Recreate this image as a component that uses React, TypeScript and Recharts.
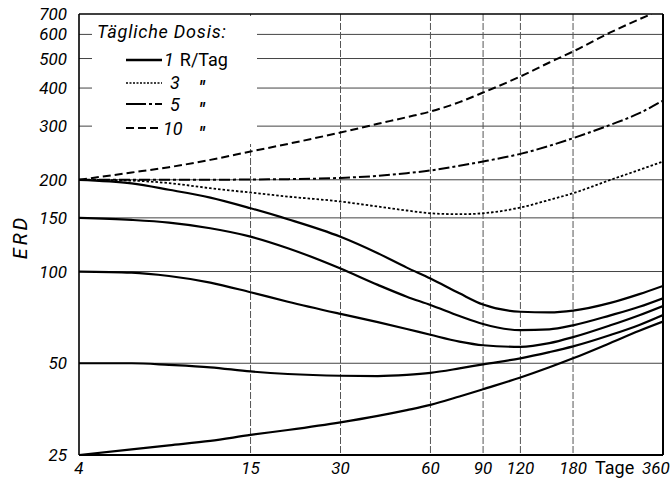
import React from 'react';
import {
  LineChart,
  Line,
  XAxis,
  YAxis,
  CartesianGrid,
  ReferenceLine,
  Customized,
} from 'recharts';

// Axis ticks and grid positions (both axes logarithmic)
const xTicks = [4, 15, 30, 60, 90, 120, 180, 360];
const yTicks = [25, 50, 100, 150, 200, 300, 400, 500, 600, 700];
const gridX = [15, 30, 60, 90, 120, 180];
const gridY = [50, 100, 150, 200, 300, 400, 500, 600];

// Days at which the curves are sampled
const days = [4, 6, 8, 11, 15, 20, 30, 40, 50, 60, 75, 90, 120, 150, 180, 240, 300, 360];

// 1 R/Tag: family of curves with different starting ERD
const erd1From200 = [200, 194.6, 185.5, 174.8, 161.3, 148.5, 130, 114.8, 103, 94.8, 84.8, 77.9, 73.8, 73.4, 74.4, 78.9, 84.3, 89.7];
const erd1From150 = [150, 147.7, 144.7, 138.7, 130.2, 119.3, 102.3, 90.4, 82.7, 77.7, 71.5, 67.3, 64.2, 64.6, 66.6, 71.8, 76.6, 81.7];
const erd1From100 = [100, 99.2, 96.7, 92, 85.5, 79.6, 72.6, 68.2, 64.8, 62, 58.9, 57.3, 56.6, 58.2, 60.9, 66.6, 71.9, 77.1];
const erd1From50 = [50, 50, 49.4, 48.5, 47, 46.1, 45.5, 45.4, 45.8, 46.5, 48.1, 49.6, 51.9, 54.4, 56.8, 61.9, 66.8, 72];
const erd1From25 = [25, 26.1, 26.9, 27.8, 29.1, 30.2, 32, 33.6, 35.1, 36.5, 38.9, 41.1, 44.9, 48.5, 51.9, 58.3, 63.9, 68.5];

// 3 R/Tag
const erd3 = [200, 198.8, 195, 187.7, 181.6, 176.2, 169.7, 163.4, 158.6, 155.3, 154.2, 155.3, 162.2, 171.8, 180.7, 199.8, 215.6, 229.6];

// 5 R/Tag
const erd5 = [200, 200, 200, 200, 200.5, 201, 202.9, 206, 210.3, 214.6, 222.3, 229.6, 243.3, 258.5, 273.9, 303, 330.8, 364];

// 10 R/Tag (leaves the chart at the top edge)
const days10 = [4, 6, 8, 11, 15, 20, 30, 40, 50, 60, 75, 90, 120, 150, 180, 240, 300, 330];
const erd10 = [200, 211.3, 220, 232.5, 247.6, 262.3, 285.9, 305.3, 321, 335, 359.6, 386.7, 436.6, 485.3, 527.3, 608.9, 673, 700];

const toPoints = (xs: number[], vals: number[]) =>
  xs.map((d, i) => ({ d, v: vals[i] }));

const solidSeries = [erd1From200, erd1From150, erd1From100, erd1From50, erd1From25];

const FONT = 'Roboto, "DejaVu Sans", sans-serif';

const XTick = (props: any) => {
  const { x, payload } = props;
  const last = payload.value === 360;
  return (
    <text
      x={x + (last ? -7 : 0)}
      y={474}
      textAnchor="middle"
      fontFamily={FONT}
      fontStyle="italic"
      fontSize={17}
      fill="#000"
    >
      {payload.value}
    </text>
  );
};

const YTick = (props: any) => {
  const { x, y, payload } = props;
  return (
    <text
      x={x}
      y={y + 6}
      textAnchor="end"
      fontFamily={FONT}
      fontStyle="italic"
      fontSize={17}
      fill="#000"
    >
      {payload.value}
    </text>
  );
};

const Annotations = () => (
  <g fontFamily={FONT} fill="#000">
    {/* key box */}
    <rect x={92} y={16} width={165} height={128} fill="#fff" />
    <text x={97} y={38} fontStyle="italic" fontSize={18} letterSpacing={0.8}>
      Tägliche Dosis:
    </text>
    <line x1={126} x2={162} y1={60} y2={60} stroke="#000" strokeWidth={2.6} />
    <text x={164} y={66} fontSize={18}>
      <tspan fontStyle="italic">1</tspan>
      <tspan dx={6}>R/Tag</tspan>
    </text>
    <line x1={126} x2={162} y1={83} y2={83} stroke="#000" strokeWidth={1.3} strokeDasharray="2 1.5" />
    <text x={170} y={89} fontStyle="italic" fontSize={18}>3</text>
    <text x={199} y={94} fontStyle="italic" fontWeight="bold" fontSize={18}>"</text>
    <line x1={126} x2={162} y1={104} y2={104} stroke="#000" strokeWidth={2} strokeDasharray="20 3 3 3" />
    <text x={170} y={111} fontStyle="italic" fontSize={18}>5</text>
    <text x={199} y={116} fontStyle="italic" fontWeight="bold" fontSize={18}>"</text>
    <line x1={126} x2={162} y1={128} y2={128} stroke="#000" strokeWidth={2} strokeDasharray="8 4" />
    <text x={163} y={135} fontStyle="italic" fontSize={18}>10</text>
    <text x={199} y={140} fontStyle="italic" fontWeight="bold" fontSize={18}>"</text>

    {/* axis titles */}
    <text
      x={27}
      y={237}
      transform="rotate(-90 27 237)"
      textAnchor="middle"
      fontStyle="italic"
      fontSize={20}
      letterSpacing={3}
    >
      ERD
    </text>
    <text x={595} y={474} fontSize={18}>Tage</text>
  </g>
);

export default function App() {
  return (
    <div style={{ position: 'absolute', left: 0, top: 0, background: '#fff' }}>
      <LineChart
        width={670}
        height={479}
        margin={{ top: 14, right: 7, bottom: 0, left: 0 }}
      >
        <CartesianGrid
          vertical={false}
          horizontalValues={gridY}
          stroke="#444"
          strokeWidth={1}
        />
        <CartesianGrid
          horizontal={false}
          verticalValues={gridX}
          stroke="#555"
          strokeWidth={1}
          strokeDasharray="7 2"
        />
        <XAxis
          type="number"
          dataKey="d"
          scale="log"
          domain={[4, 360]}
          ticks={xTicks}
          interval={0}
          allowDataOverflow
          height={24}
          tickLine={false}
          tickSize={0}
          axisLine={{ stroke: '#000', strokeWidth: 2 }}
          tick={<XTick />}
        />
        <YAxis
          type="number"
          dataKey="v"
          scale="log"
          domain={[25, 700]}
          ticks={yTicks}
          interval={0}
          allowDataOverflow
          width={79}
          tickLine={false}
          tickMargin={6}
          axisLine={{ stroke: '#000', strokeWidth: 1.6 }}
          tick={<YTick />}
        />
        <ReferenceLine y={700} stroke="#000" strokeWidth={1.6} />
        <ReferenceLine x={360} stroke="#000" strokeWidth={2} />
        {solidSeries.map((vals, i) => (
          <Line
            key={`s${i}`}
            data={toPoints(days, vals)}
            dataKey="v"
            type="monotone"
            stroke="#000"
            strokeWidth={2.2}
            dot={false}
            isAnimationActive={false}
          />
        ))}
        <Line
          data={toPoints(days, erd3)}
          dataKey="v"
          type="monotone"
          stroke="#000"
          strokeWidth={1.8}
          strokeDasharray="2.5 2"
          dot={false}
          isAnimationActive={false}
        />
        <Line
          data={toPoints(days, erd5)}
          dataKey="v"
          type="monotone"
          stroke="#000"
          strokeWidth={2}
          strokeDasharray="11 3 3 3"
          dot={false}
          isAnimationActive={false}
        />
        <Line
          data={toPoints(days10, erd10)}
          dataKey="v"
          type="monotone"
          stroke="#000"
          strokeWidth={2}
          strokeDasharray="8 4"
          dot={false}
          isAnimationActive={false}
        />
        <Customized component={Annotations} />
      </LineChart>
    </div>
  );
}
